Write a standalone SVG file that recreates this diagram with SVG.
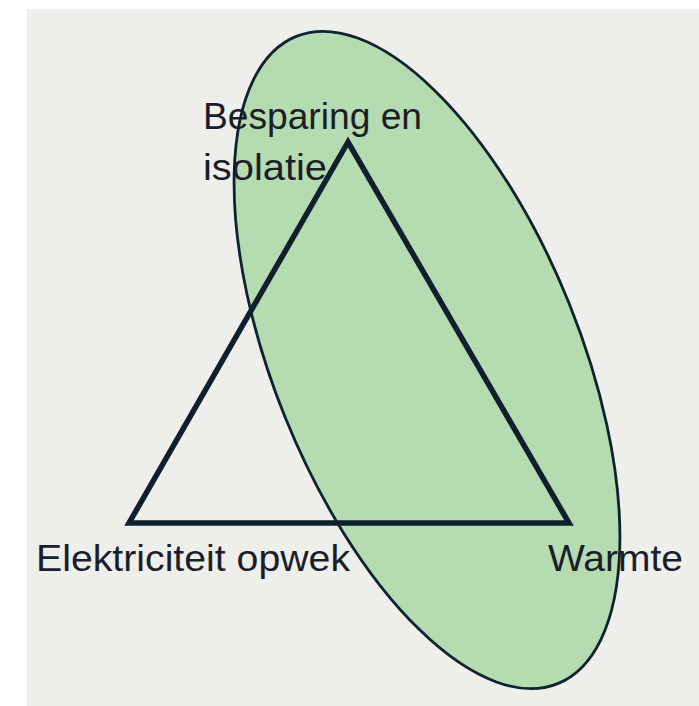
<svg xmlns="http://www.w3.org/2000/svg" width="699" height="706" viewBox="0 0 699 706">
  <style>
    .lbl { font-family: "Liberation Sans", Arial, sans-serif; font-size: 36px; fill: #1b1d2a; }
  </style>
  <rect x="0" y="0" width="699" height="706" fill="#ffffff"/>
  <rect x="27" y="9" width="672" height="697" fill="#eeeeea"/>
  <g id="ellipse">
    <ellipse cx="427" cy="360" rx="153" ry="349" transform="rotate(-22 427 360)" fill="#b5dbb0" stroke="#0f2230" stroke-width="2.8"/>
  </g>
  <g id="connectors">
    <polygon points="348,142 129,523 569,523" fill="none" stroke="#0e1f2e" stroke-width="5.5" stroke-linejoin="miter"/>
  </g>
  <g id="node-besparing">
    <text class="lbl" x="203" y="129" textLength="219" lengthAdjust="spacingAndGlyphs">Besparing en</text>
    <text class="lbl" x="203" y="180" textLength="124" lengthAdjust="spacingAndGlyphs">isolatie</text>
  </g>
  <g id="node-elektriciteit">
    <text class="lbl" x="36" y="571" textLength="314" lengthAdjust="spacingAndGlyphs">Elektriciteit opwek</text>
  </g>
  <g id="node-warmte">
    <text class="lbl" x="548" y="571" textLength="135" lengthAdjust="spacingAndGlyphs">Warmte</text>
  </g>
</svg>
